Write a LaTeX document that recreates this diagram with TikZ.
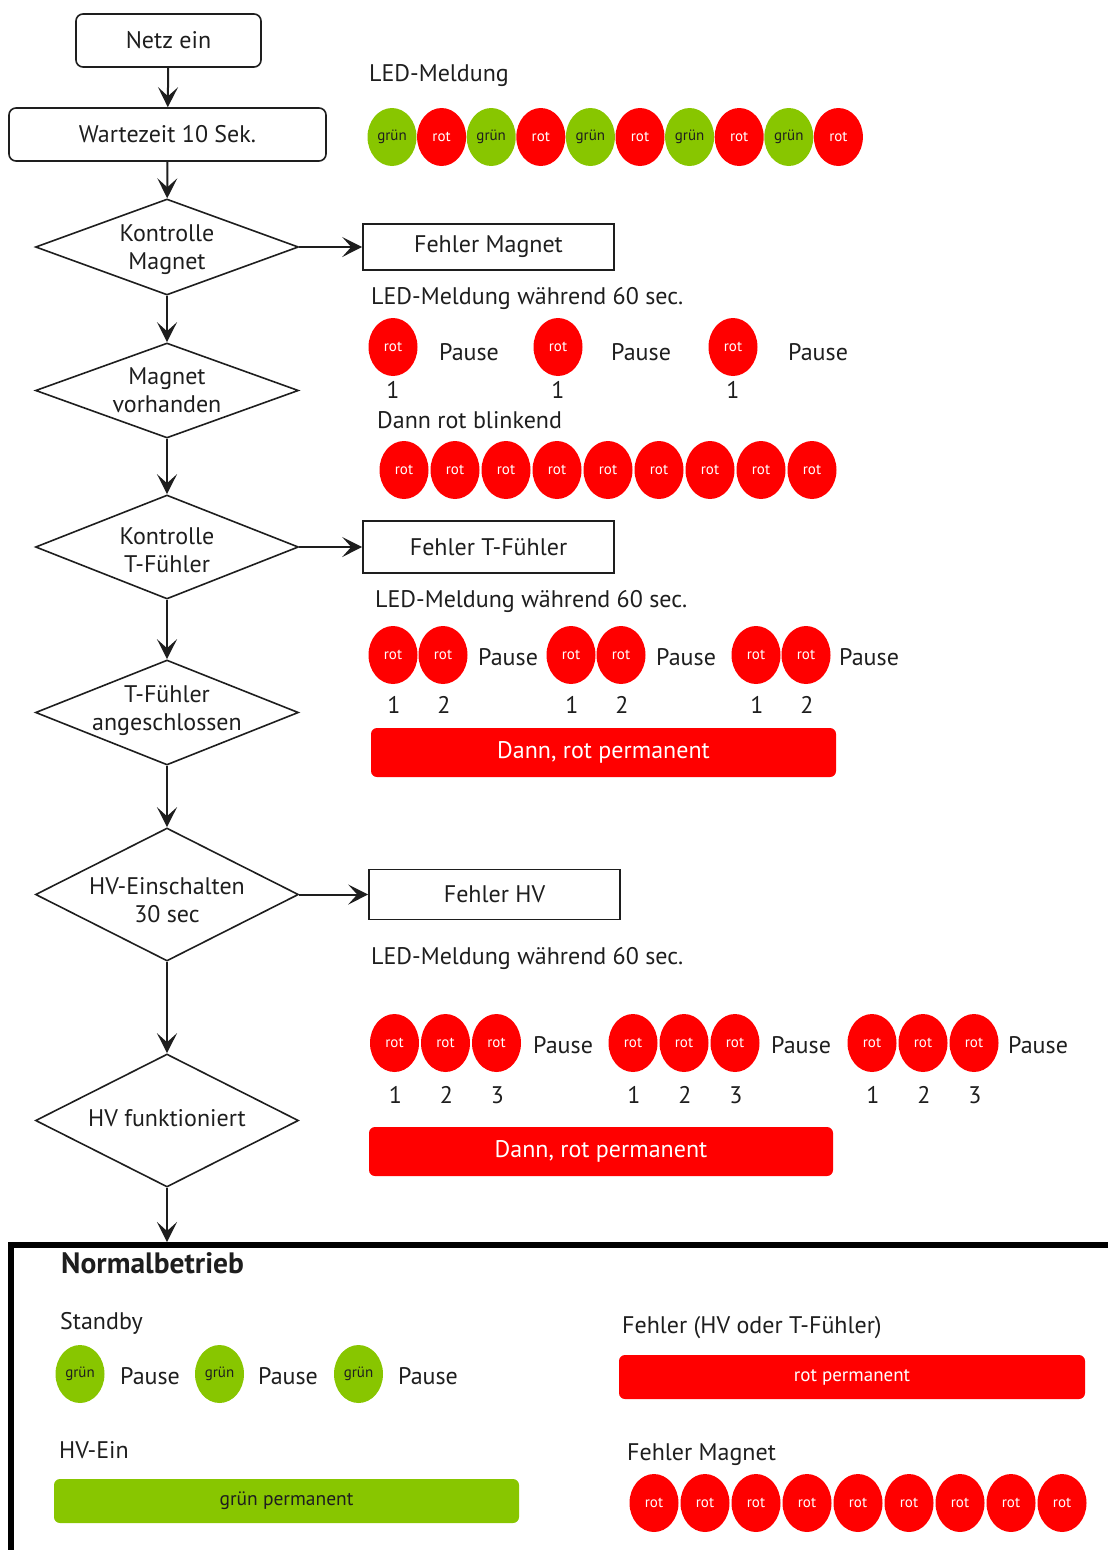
\documentclass[tikz,border=0pt]{standalone}
\usepackage{fontspec}
\setmainfont{PT Sans}
\usetikzlibrary{shapes.geometric,arrows.meta}

\definecolor{ledgruen}{RGB}{136,198,0}
\definecolor{ledrot}{RGB}{255,0,0}
\definecolor{schrift}{RGB}{30,30,30}

\newcommand{\textgr}{\fontsize{24}{28}\selectfont}

\begin{document}
\begin{tikzpicture}[x=1pt,y=-1pt,
    schritt/.style ={rectangle, draw=schrift, line width=1.6pt, rounded corners=7pt, text=schrift, font=\textgr},
    abfrage/.style ={diamond, draw=schrift, line width=1.6pt, minimum width=263pt, inner sep=0pt},
    fehlerbox/.style ={rectangle, draw=schrift, line width=1.6pt, minimum width=251pt, text=schrift, font=\textgr},
    led/.style ={ellipse, inner sep=0pt, minimum width=49pt, minimum height=58pt, font=\fontsize{15}{15}\selectfont},
    rotled/.style ={led, fill=ledrot, text=white},
    gruenled/.style ={led, fill=ledgruen, text=schrift},
    balken/.style ={rectangle, rounded corners=6pt, inner sep=0pt},
    info/.style ={anchor=base west, inner sep=0pt, text=schrift, font=\textgr},
    zahl/.style ={anchor=base, inner sep=0pt, text=schrift, font=\textgr},
    pfeil/.style ={draw=schrift, line width=2pt, -{Stealth[length=20pt,width=20pt,inset=9pt]}}]
   \useasboundingbox (0,0) rectangle (1108,1550);

   % Ablauf links
   \node[schritt, minimum width=185pt, minimum height=53pt] (netz) at (168.5,40.5) {Netz ein};
   \node[schritt, minimum width=317pt, minimum height=53pt] (warte) at (167.5,134.5) {Wartezeit 10 Sek.};
   \node[abfrage, minimum height=96pt] (kmagnet) at (167,247)
      [label={[align=center, text=schrift, font=\textgr, yshift=-3pt]center:Kontrolle\\Magnet}] {};
   \node[abfrage, minimum height=95pt] (vmagnet) at (167,390.5)
      [label={[align=center, text=schrift, font=\textgr]center:Magnet\\vorhanden}] {};
   \node[abfrage, minimum height=104pt] (ktf) at (167,547)
      [label={[align=center, text=schrift, font=\textgr, yshift=-3pt]center:Kontrolle\\T-Fühler}] {};
   \node[abfrage, minimum height=105pt] (atf) at (167,712.5)
      [label={[align=center, text=schrift, font=\textgr, yshift=2pt]center:T-Fühler\\angeschlossen}] {};
   \node[abfrage, minimum height=133pt] (hvein) at (167,894.5)
      [label={[align=center, text=schrift, font=\textgr, yshift=-6pt]center:HV-Einschalten\\30 sec}] {};
   \node[abfrage, minimum height=133pt] (hvok) at (167,1120.5)
      [label={[text=schrift, font=\textgr, yshift=2pt]center:HV funktioniert}] {};
   \coordinate (rahmen) at (167,1242);

   \node[fehlerbox, minimum height=46pt] (fmagnet) at (488.5,247) {Fehler Magnet};
   \node[fehlerbox, minimum height=52pt] (ftf) at (488.5,547) {Fehler T-Fühler};
   \node[fehlerbox, minimum height=50pt] (fhv) at (494.5,894.5) {Fehler HV};

   \draw[pfeil] (netz) to (warte);
   \draw[pfeil] (warte) to (kmagnet);
   \draw[pfeil] (kmagnet) to (vmagnet);
   \draw[pfeil] (vmagnet) to (ktf);
   \draw[pfeil] (ktf) to (atf);
   \draw[pfeil] (atf) to (hvein);
   \draw[pfeil] (hvein) to (hvok);
   \draw[pfeil] (hvok) to (rahmen);
   \draw[pfeil] (kmagnet.east) to (fmagnet.west);
   \draw[pfeil] (ktf.east) to (ftf.west);
   \draw[pfeil] (hvein.east) to (fhv.west);

   % LED-Meldung beim Start
   \node[info] (tstart) at (369,81) {LED-Meldung};
   \foreach \i in {0,2,4,6,8}
      \node[gruenled] (s\i) at ({392+49.6*\i},137) {grün};
   \foreach \i in {1,3,5,7,9}
      \node[rotled] (s\i) at ({392+49.6*\i},137) {rot};

   % Fehler Magnet
   \node[info] (tmagnet) at (371,304) {LED-Meldung während 60 sec.};
   \foreach \x/\p [count=\k] in {393/439, 558/611, 733/788} {
      \node[rotled] (m\k) at (\x,347) {rot};
      \node[info] (mp\k) at (\p,360) {Pause};
      \node[zahl] (mz\k) at (\x,398) {1};
   }
   \node[info] (tblink) at (377,428) {Dann rot blinkend};
   \foreach \i in {0,...,8}
      \node[rotled] (b\i) at ({404+51*\i},470) {rot};

   % Fehler T-Fuehler
   \node[info] (ttf) at (375,607) {LED-Meldung während 60 sec.};
   \foreach \x/\p [count=\k] in {393/478, 571/656, 756/839} {
      \node[rotled] (t\k a) at (\x,655) {rot};
      \node[rotled] (t\k b) at (\x+50,655) {rot};
      \node[info] (tp\k) at (\p,665) {Pause};
      \node[zahl] (tz\k a) at (\x+1,713) {1};
      \node[zahl] (tz\k b) at (\x+51,713) {2};
   }
   \node[balken, fill=ledrot, text=white, font=\textgr, minimum width=465pt, minimum height=49pt]
      (tperm) at (603.5,752.5) {Dann, rot permanent};

   % Fehler HV
   \node[info] (thv) at (371,964) {LED-Meldung während 60 sec.};
   \foreach \x/\p [count=\k] in {394.5/533, 633/771, 872/1008} {
      \node[rotled] (h\k a) at (\x,1043) {rot};
      \node[rotled] (h\k b) at (\x+51,1043) {rot};
      \node[rotled] (h\k c) at (\x+102,1043) {rot};
      \node[info] (hp\k) at (\p,1053) {Pause};
      \node[zahl] (hz\k a) at (\x+1,1103) {1};
      \node[zahl] (hz\k b) at (\x+52,1103) {2};
      \node[zahl] (hz\k c) at (\x+103,1103) {3};
   }
   \node[balken, fill=ledrot, text=white, font=\textgr, minimum width=464pt, minimum height=49pt]
      (hperm) at (601,1151.5) {Dann, rot permanent};

   % Normalbetrieb
   \draw[line width=6pt] (1130,1245) -| (11,1570);
   \node[info, font=\fontsize{29.5}{33}\selectfont\bfseries] (normal) at (61,1273) {Normalbetrieb};
   \node[info] (tstandby) at (60,1329) {Standby};
   \foreach \x/\p [count=\k] in {80/120, 219.5/258, 358.5/398} {
      \node[gruenled] (n\k) at (\x,1374) {grün};
      \node[info] (np\k) at (\p,1384) {Pause};
   }
   \node[info] (thvein) at (59,1458) {HV-Ein};
   \node[balken, fill=ledgruen, text=schrift, font=\fontsize{19.5}{22}\selectfont, minimum width=465pt, minimum height=44pt]
      (gperm) at (286.5,1501) {grün permanent};
   \node[info] (tfhvtf) at (622,1333) {Fehler (HV oder T-Fühler)};
   \node[balken, fill=ledrot, text=white, font=\fontsize{19}{22}\selectfont, minimum width=466pt, minimum height=44pt]
      (rperm) at (852,1377) {rot permanent};
   \node[info] (tfmagnet) at (627,1460) {Fehler Magnet};
   \foreach \i in {0,...,8}
      \node[rotled] (f\i) at ({654+51*\i},1503) {rot};

\end{tikzpicture}
\end{document}
